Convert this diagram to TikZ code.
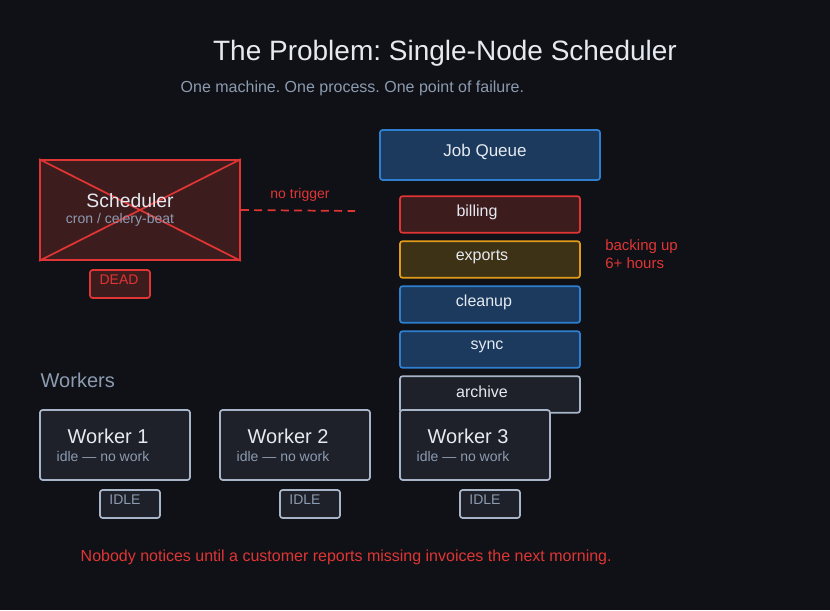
\documentclass[tikz,border=0pt]{standalone}
\usepackage{fontspec}
\setmainfont{Liberation Sans}
\usepackage{xcolor}
\frenchspacing
\definecolor{bgdark}{HTML}{0F1116}
\definecolor{deadred}{HTML}{E03535}
\definecolor{deadfill}{HTML}{3D1C1E}
\definecolor{warnorange}{HTML}{E09A1A}
\definecolor{warnfill}{HTML}{3D3215}
\definecolor{qblue}{HTML}{2F7FD0}
\definecolor{qfill}{HTML}{1B3A5E}
\definecolor{slatefill}{HTML}{1E2129}
\definecolor{slateline}{HTML}{A8B4C8}
\definecolor{mutedtext}{HTML}{8D9BB0}
\definecolor{lighttext}{HTML}{E6EAF0}
\tikzset{
	box/.style={draw, line width=1.3pt, rounded corners=2pt},
	job/.style={box, fill=qfill, draw=qblue},
	idle/.style={box, fill=slatefill, draw=slateline},
	small/.style={font=\fontsize{10.5}{12}\selectfont},
}

\begin{document}
\begin{tikzpicture}[x=0.75pt, y=-0.75pt, font=\fontsize{12}{14}\selectfont]
	% Background and title:
	\fill[bgdark] (0,0) rectangle (830,610);
	\useasboundingbox (0,0) rectangle (830,610);
	\node[text=lighttext, font=\fontsize{21}{24}\selectfont](T1) at (445,53){The Problem: Single-Node Scheduler};
	\node[text=mutedtext, anchor=west](T2) at (176,88){One machine. One process. One point of failure.};

	% Dead scheduler:
	\node[draw=deadred, fill=deadfill, line width=1.3pt, minimum width=150pt, minimum height=75pt](S1) at (140,210){};
	\draw[deadred, line width=1.3pt] (S1.north west) -- (S1.south east) (S1.north east) -- (S1.south west);
	\node[text=lighttext, font=\fontsize{14.5}{16}\selectfont](S2) at (130,201){Scheduler};
	\node[text=mutedtext, small](S3) at (120,220){cron / celery-beat};
	\node[box, fill=deadfill, draw=deadred, minimum width=45pt, minimum height=21pt](D1) at (120,284){};
	\node[text=deadred, small] at (119,280){DEAD};
	\coordinate (S5) at (355,211);
	\draw[deadred, line width=1.3pt, dash pattern=on 6pt off 4pt] (S1.east) -- (S5);
	\node[text=deadred, small](S6) at (300,195){no trigger};

	% Job queue:
	\node[job, minimum width=165pt, minimum height=37.5pt](Q0) at (490,155){};
	\node[text=lighttext, font=\fontsize{12.75}{15}\selectfont] at (485,152){Job Queue};
	\node[box, fill=deadfill, draw=deadred, minimum width=135pt, minimum height=27.5pt](Q1) at (490,214.5){};
	\node[text=lighttext] at (477,212){billing};
	\node[box, fill=warnfill, draw=warnorange, minimum width=135pt, minimum height=27.5pt](Q2) at (490,259.5){};
	\node[text=lighttext] at (482,257){exports};
	\node[job, minimum width=135pt, minimum height=27.5pt](Q3) at (490,304.5){};
	\node[text=lighttext] at (484,302){cleanup};
	\node[job, minimum width=135pt, minimum height=27.5pt](Q4) at (490,349.5){};
	\node[text=lighttext] at (487,347){sync};
	\node[idle, minimum width=135pt, minimum height=27.5pt](Q5) at (490,394.5){};
	\node[text=lighttext] at (482,392){archive};
	\node[text=deadred, anchor=north west, align=left, inner sep=0pt, font=\fontsize{11.25}{13.5}\selectfont](B1) at (605,239){backing up\\6+ hours};

	% Workers:
	\node[text=mutedtext, anchor=west, font=\fontsize{15}{18}\selectfont](W0) at (36,380){Workers};
	\foreach \i/\x in {1/40, 2/220, 3/400} {
		\node[idle, minimum width=112.5pt, minimum height=52.5pt](W\i) at (\x+75,445){};
		\node[text=lighttext, anchor=west, font=\fontsize{15}{18}\selectfont] at (\x+23,436){Worker \i};
		\node[text=mutedtext, anchor=west, small] at (\x+12,456){idle — no work};
		\node[idle, minimum width=45pt, minimum height=21pt](I\i) at (\x+90,504){};
		\node[text=mutedtext, small] at (\x+85,500){IDLE};
	}

	% Footer:
	\node[text=deadred, anchor=west](F1) at (76,557){Nobody notices until a customer reports missing invoices the next morning.};
\end{tikzpicture}
\end{document}
